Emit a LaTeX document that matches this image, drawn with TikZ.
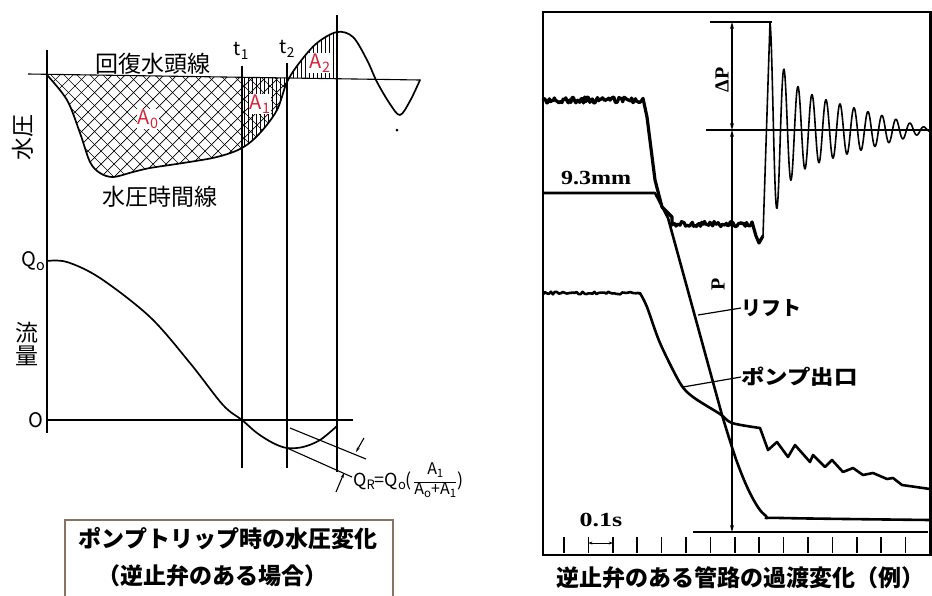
\documentclass[tikz,border=0pt]{standalone}
\usepackage{fontspec}
\setmainfont{Liberation Serif}
\newfontfamily\jpfont{Noto Sans CJK JP}
\usetikzlibrary{arrows.meta,positioning}
\definecolor{areared}{RGB}{215,35,55}
\definecolor{boxbrown}{RGB}{135,115,95}
\newcommand{\subs}[1]{\raisebox{-0.35ex}{\scalebox{0.72}{#1}}}
\newcommand{\prescurve}{plot[smooth,tension=0.55] coordinates {(47,75) (67,100) (80,133) (90,162) (100,173) (113,177) (133,172) (150,168) (183,163) (217,157) (242,148) (260,133) (277,110) (287,82) (300,62) (317,43) (337,32) (353,37) (367,60) (377,82) (390,104) (400,115) (410,101) (420,80)}}
\newcommand{\scaletick}[1]{\draw[tickline] (#1,537) -- (#1,553);}
\tikzset{
  thinline/.style={line width=1.1pt},
  curveline/.style={line width=1.7pt, line cap=round, line join=round},
  hatchline/.style={line width=0.7pt},
  traceline/.style={line width=2.6pt, line join=round},
  noisyline/.style={line width=3.2pt, line join=round},
  waveline/.style={line width=1.6pt, line join=round},
  dimline/.style={line width=1.2pt},
  tickline/.style={line width=1.7pt},
  dimtip/.style={{Stealth[length=7pt,width=4pt]}-{Stealth[length=7pt,width=4pt]}},
  jplabel/.style={font=\jpfont\fontsize{23}{23}\selectfont, inner sep=0pt},
  arealabel/.style={font=\jpfont\fontsize{20}{20}\selectfont, text=areared, fill=white, inner sep=0.5pt},
  latinlabel/.style={font=\jpfont\fontsize{20}{20}\selectfont, inner sep=0pt},
  formula/.style={font=\jpfont\fontsize{18}{18}\selectfont, inner sep=0pt},
  boldlabel/.style={font=\bfseries\fontsize{20}{20}\selectfont, inner sep=0pt},
  jpbold/.style={font=\jpfont\bfseries\fontsize{23}{23}\selectfont, inner sep=0pt},
  tracelabel/.style={font=\jpfont\bfseries\fontsize{20}{20}\selectfont, inner sep=0pt, anchor=west},
}

\begin{document}
\begin{tikzpicture}[x=1pt,y=-1pt]
    \useasboundingbox (0,0) rectangle (932,595);
    \pgfmathsetseed{7}

    % hatching A0 and A1
    \begin{scope}
        \clip (47,74.3) -- (287,78) -- (287,200) -- (47,200) -- cycle;
        \clip \prescurve -- (420,0) -- (47,0) -- cycle;
        \foreach \i in {-120,-107,...,450} {
            \draw[hatchline] (\i,60) -- ++(150,150);
            \draw[hatchline] (\i,60) -- ++(-150,150);
        }
        \foreach \i in {244,248,...,287}
            \draw[hatchline] (\i,60) -- (\i,160);
    \end{scope}
    % hatching A2
    \begin{scope}
        \clip (287,78) -- (337,78.7) -- (337,0) -- (287,0) -- cycle;
        \clip \prescurve -- (420,300) -- (47,300) -- cycle;
        \foreach \i in {289,293,...,337}
            \draw[hatchline] (\i,20) -- (\i,80);
    \end{scope}

    % axes and time lines
    \coordinate (headL) at (28,74);
    \coordinate (headR) at (420,80);
    \draw[thinline] (headL) -- (headR);
    \draw[thinline] (47,50) -- (47,433);
    \draw[thinline] (47,420) -- (353,420);
    \draw[thinline] (242,66) -- (242,468);
    \draw[thinline] (287,63) -- (287,468);
    \draw[thinline] (337,15) -- (337,472);

    % pressure curve
    \draw[curveline] \prescurve;
    \fill (397,130) circle (1.5);

    % flow curve
    \draw[curveline] plot[smooth,tension=0.55] coordinates {(47,261) (67,262) (100,278) (150,317) (190,363) (223,405) (242,420) (257,433) (273,443) (287,448) (303,447) (320,440) (337,426)};
    \coordinate (lowA) at (287,448);
    \coordinate (lowB) at (352,477);
    \coordinate (upA) at (290,428);
    \coordinate (upB) at (366,459);
    \draw[thinline] (lowA) -- (lowB);
    \draw[thinline] (upA) -- (upB);
    \coordinate (qlow) at (344,473);
    \coordinate (qup) at (356,452);
    \coordinate (qlowout) at (336,492);
    \coordinate (qupout) at (364,438);
    \draw[thinline, -{Stealth[length=5pt,width=3pt]}] (qlowout) -- (qlow);
    \draw[thinline, -{Stealth[length=5pt,width=3pt]}] (qupout) -- (qup);

    % labels left
    \node[jplabel] (headlbl) at (153,64) {回復水頭線};
    \node[jplabel] (timelbl) at (160,197) {水圧時間線};
    \node[jplabel, rotate=90] (preslbl) at (23,137) {水圧};
    \node[jplabel, align=center] (flowlbl) at (27,344) {流\\量};
    \node[latinlabel, anchor=east] (q0) at (45,261) {Q\subs{o}};
    \node[latinlabel] (zero) at (36,420) {O};
    \node[latinlabel, font=\jpfont\fontsize{19}{19}\selectfont] (t1) at (241,51) {t\subs{1}};
    \node[latinlabel, font=\jpfont\fontsize{19}{19}\selectfont] (t2) at (287,49) {t\subs{2}};
    \node[arealabel] (a0) at (148,119) {A\subs{0}};
    \node[arealabel] (a1) at (260,104) {A\subs{1}};
    \node[arealabel] (a2) at (320,63) {A\subs{2}};
    \node[formula, anchor=west] (qr) at (353,481) {Q\subs{R}=Q\subs{o}(};
    \node[formula, font=\jpfont\fontsize{16}{16}\selectfont, right=2pt of qr] (qfrac) {\begin{tabular}{@{}c@{}}A\subs{1}\\[3pt]\hline A\subs{o}+A\subs{1}\end{tabular}};
    \node[formula, right=1pt of qfrac] (qclose) {)};

    % caption box left
    \draw[line width=1.8pt, boxbrown] (65,598) -- (65,520) -- (393,520) -- (393,598);
    \node[jpbold] (capL1) at (228,539) {ポンプトリップ時の水圧変化};
    \node[jpbold] (capL2) at (212,576) {（逆止弁のある場合）};

    % frame right
    \draw[line width=2.2pt] (543,12) rectangle (930.5,555);

    % dimension lines
    \coordinate (ptop) at (732,22);
    \coordinate (pmid) at (732,130);
    \coordinate (pbot) at (732,532);
    \draw[dimline] (710,22) -- (772,22);
    \draw[dimline] (706,130) -- (930,130);
    \draw[dimline] (693,532) -- (928,532);
    \draw[dimline, dimtip] (ptop) -- (pmid);
    \draw[dimline, dimtip] (pmid) -- (pbot);
    \node[boldlabel, rotate=90] (dp) at (722,80) {ΔP};
    \node[boldlabel, rotate=90] (pp) at (718,284) {P};

    % pressure trace with surge
    \coordinate (osc0) at (763,236);
    \draw[noisyline] plot[domain=543:643, samples=80] (\x,{100+3*rand}) -- (647,117) -- (655,180) -- (662,207) -- (672,217) -- plot[domain=672:752, samples=60] (\x,{224+2.6*rand}) -- (756,236) -- (759,243) -- (osc0);
    \draw[waveline] (osc0) -- plot[domain=0:160, samples=321] ({770+\x},{130-(63*exp(-min(\x,80)/12)+45*(1-\x/165))*cos(\x*25.714)});

    % lift trace
    \draw[traceline] (543,193) -- (655,193) -- (668,218) -- (722,415) -- plot[smooth,tension=0.6] coordinates {(722,415) (737,462) (752,497) (766,516) (782,518) (930,520)};
    \node[boldlabel, xscale=1.2] (mm) at (596,178) {9.3mm};

    % pump outlet trace
    \draw[traceline] plot[domain=543:640, samples=50] (\x,{293+1.3*rand}) -- plot[smooth,tension=0.5] coordinates {(640,293) (647,307) (660,343) (680,383) (693,397) (720,414) (732,423) (760,428)} -- (768,450) -- (777,442) -- (788,457) -- (795,445) -- (810,462) -- (813,455) -- (825,467) -- (832,460) -- (843,472) -- (853,468) -- (863,475) -- (873,473) -- (887,479) -- (893,478) -- (902,485) -- (930,489);

    % trace labels
    \node[tracelabel] (lift) at (741,308) {リフト};
    \node[tracelabel, xscale=1.17] (outlet) at (741,377) {ポンプ出口};
    \coordinate (liftpt) at (698,315);
    \coordinate (outletpt) at (683,387);
    \draw[dimline] (liftpt) -- (lift.west);
    \draw[dimline] (outletpt) -- (outlet.west);

    % time scale
    \foreach \k in {0,...,14} {
        \pgfmathsetmacro{\tx}{564+24.4*\k}
        \scaletick{\tx}
    }
    \coordinate (sA) at (588.4,543);
    \coordinate (sB) at (612.8,543);
    \draw[line width=1pt, {Stealth[length=4pt,width=3pt]}-{Stealth[length=4pt,width=3pt]}] (sA) -- (sB);
    \node[boldlabel, xscale=1.3] (tenth) at (601,520) {0.1s};

    % caption right
    \node[jpbold] (capR) at (740,578) {逆止弁のある管路の過渡変化（例）};
\end{tikzpicture}
\end{document}
